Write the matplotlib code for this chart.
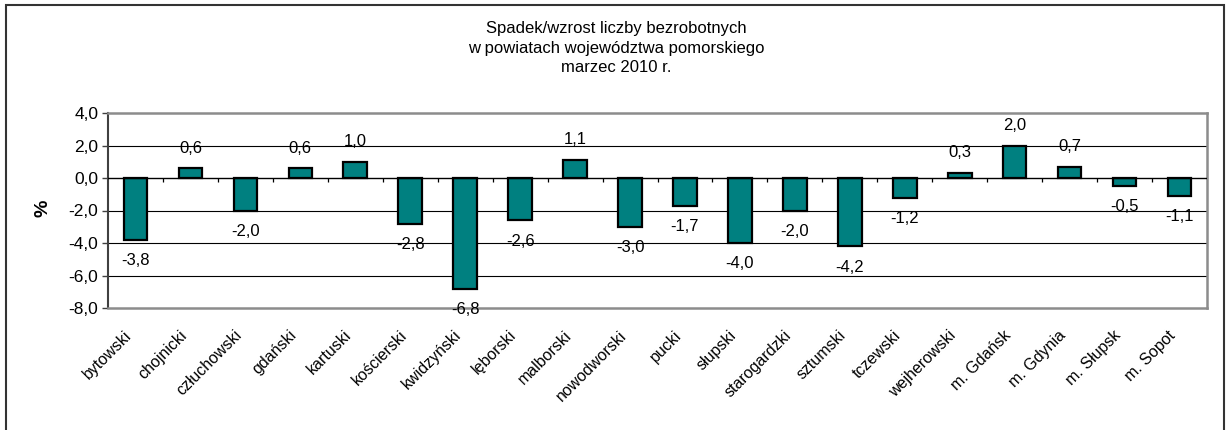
import matplotlib
matplotlib.use("Agg")
import matplotlib.pyplot as plt
from matplotlib.patches import Rectangle
from matplotlib.transforms import ScaledTranslation

plt.rcParams['font.family'] = ['Liberation Sans', 'DejaVu Sans']

categories = ["bytowski", "chojnicki", "człuchowski", "gdański", "kartuski",
              "kościerski", "kwidzyński", "lęborski", "malborski", "nowodworski",
              "pucki", "słupski", "starogardzki", "sztumski", "tczewski",
              "wejherowski", "m. Gdańsk", "m. Gdynia", "m. Słupsk", "m. Sopot"]
values = [-3.8, 0.6, -2.0, 0.6, 1.0, -2.8, -6.8, -2.6, 1.1, -3.0,
          -1.7, -4.0, -2.0, -4.2, -1.2, 0.3, 2.0, 0.7, -0.5, -1.1]
yticks = [4, 2, 0, -2, -4, -6, -8]
title_lines = ["Spadek/wzrost liczby bezrobotnych",
               "w powiatach województwa pomorskiego",
               "marzec 2010 r."]


def fmt(v):
    return f"{v:.1f}".replace(".", ",")


FS = 12
fig = plt.figure(figsize=(12.28, 4.30), dpi=100)
ax = fig.add_axes([108 / 1228, 1 - 308 / 430, (1207 - 108) / 1228, (308 - 113) / 430])

# outer frame
fig.patches.append(Rectangle((6 / 1228, -0.1), (1224 - 6) / 1228, 1.1 - 5 / 430,
                             transform=fig.transFigure, fill=False,
                             edgecolor='#333333', linewidth=1.5))

x = list(range(len(categories)))
ax.bar(x, values, width=0.43, color='#008080', edgecolor='black', linewidth=1.6, zorder=3)

ax.set_xlim(-0.5, len(categories) - 0.5)
ax.set_ylim(-8, 4)
ax.set_yticks(yticks)
ax.set_yticklabels([fmt(v) for v in yticks], fontsize=FS + 0.5)
for gy in [2, -2, -4, -6]:
    ax.axhline(gy, color='black', linewidth=0.8, zorder=1)
ax.axhline(0, color='black', linewidth=1.0, zorder=4)
# category boundary ticks on zero line
ax.vlines([i + 0.5 for i in x[:-1]], -0.26, 0, color='black', linewidth=0.9, zorder=4)

ax.set_xticks(x)
ax.set_xticklabels(categories, rotation=45, ha='right', va='center',
                   rotation_mode='anchor', fontsize=FS - 0.5)
ax.tick_params(axis='x', length=0, pad=18)
shift = ScaledTranslation(-6 / 100, 0, fig.dpi_scale_trans)
for lbl in ax.get_xticklabels():
    lbl.set_transform(lbl.get_transform() + shift)
ax.tick_params(axis='y', length=4, width=1, direction='out', color='#404040', pad=3)

for s in ['top', 'right', 'bottom']:
    ax.spines[s].set_color('#8c8c8c')
    ax.spines[s].set_linewidth(1.8)
ax.spines['left'].set_color('#404040')
ax.spines['left'].set_linewidth(1.5)

for xi, v in zip(x, values):
    off = 14.5 if v > 0 else -15.0
    ax.annotate(fmt(v), (xi, v), xytext=(0, off), textcoords='offset points',
                ha='center', va='center', fontsize=FS, zorder=5)

for i, line in enumerate(title_lines):
    fig.text(616 / 1228, 1 - (29 + 19 * i) / 430, line, ha='center', va='center', fontsize=FS)

fig.text(43 / 1228, 1 - 208 / 430, "%", rotation=90, ha='center', va='center',
         fontsize=14, fontweight='bold')

fig.savefig("out.png", dpi=100)
